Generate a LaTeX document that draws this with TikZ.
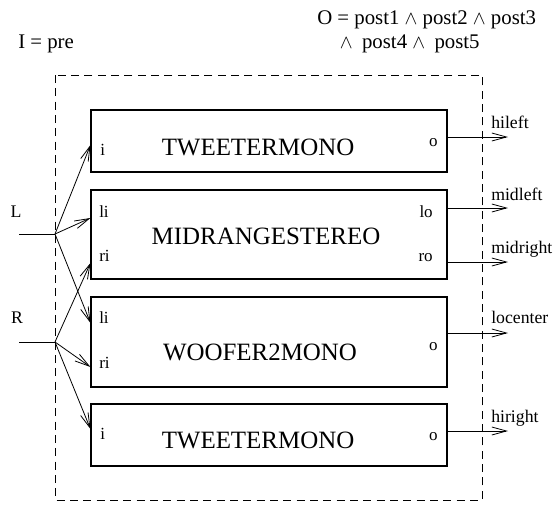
\documentclass[tikz,border=0pt]{standalone}
\usepackage{fontspec}
\setmainfont{Liberation Serif}
\usetikzlibrary{arrows.meta}
\begin{document}
\begin{tikzpicture}[x=0.75pt,y=-0.75pt,
  blk/.style={draw, line width=0.8pt, minimum width=267pt, inner sep=0pt},
  port/.style={font=\fontsize{12.75}{14}\selectfont, inner sep=0pt, anchor=base west},
  portr/.style={port, anchor=base east},
  ttl/.style={font=\fontsize{18.7}{22}\selectfont, inner sep=0pt, anchor=base},
  lbl/.style={font=\fontsize{13.3}{15}\selectfont, inner sep=0pt, anchor=base west},
  toptxt/.style={font=\fontsize{15.6}{17.6}\selectfont, inner sep=0pt, anchor=base west},
  wire/.style={line width=0.6pt},
  arr/.style={line width=0.6pt, -{Straight Barb[length=11pt,width=6pt,line width=0.6pt]}},
  frame/.style={line width=0.7pt, dash pattern=on 6pt off 4pt}]
\useasboundingbox (0,0) rectangle (553,504);

% top texts
\node[toptxt] (pre) at (18,48) {I = pre};
\node[toptxt, align=left] (post) at (317,48)
  {O = post1 $\wedge$ post2 $\wedge$ post3\\
   \hspace*{17pt}$\wedge$\hspace{0.2em} post4 $\wedge$\hspace{0.2em} post5};

% dashed enclosure
\draw[frame] (55,75) rectangle (482,500);

% blocks
\node[blk, minimum height=46.5pt] (b1) at (269,141) {};
\node[blk, minimum height=66.75pt] (b2) at (269,234.5) {};
\node[blk, minimum height=67.5pt] (b3) at (269,342) {};
\node[blk, minimum height=46.5pt] (b4) at (269,435) {};

\node[ttl] (t1) at (258,155.7) {TWEETERMONO};
\node[ttl] (t2) at (266,244) {MIDRANGESTEREO};
\node[ttl] (t3) at (260,360) {WOOFER2MONO};
\node[ttl] (t4) at (258,448) {TWEETERMONO};

% port labels
\node[port] (b1i) at (100,155) {i};
\node[portr] (b1o) at (438,146) {o};
\node[port] (b2li) at (99,217) {li};
\node[port] (b2ri) at (99,261) {ri};
\node[portr] (b2lo) at (433,217) {lo};
\node[portr] (b2ro) at (433,261) {ro};
\node[port] (b3li) at (99,323) {li};
\node[port] (b3ri) at (99,368) {ri};
\node[portr] (b3o) at (438,350) {o};
\node[port] (b4i) at (100,439) {i};
\node[portr] (b4o) at (438,440) {o};

% inputs
\node[lbl, anchor=base] (Llab) at (16,217) {L};
\node[lbl, anchor=base] (Rlab) at (17,323) {R};
\coordinate (L0) at (19,234);
\coordinate (jL) at (55,234);
\coordinate (R0) at (19,342);
\coordinate (jR) at (55,342);
\coordinate (p1) at (91,145);
\coordinate (p2l) at (91,218);
\coordinate (p2r) at (91,263);
\coordinate (p3l) at (91,323);
\coordinate (p3r) at (91,367);
\coordinate (p4) at (91,429);
\draw[wire] (L0) -- (jL);
\draw[wire] (R0) -- (jR);
\draw[arr] (jL) -- (b1.west |- p1);
\draw[arr] (jL) -- (b2.west |- p2l);
\draw[arr] (jL) -- (b3.west |- p3l);
\draw[arr] (jR) -- (b2.west |- p2r);
\draw[arr] (jR) -- (b3.west |- p3r);
\draw[arr] (jR) -- (b4.west |- p4);

% outputs
\coordinate (o1) at (508,137);
\coordinate (o2) at (508,208);
\coordinate (o3) at (508,262);
\coordinate (o4) at (508,333);
\coordinate (o5) at (508,431);
\draw[arr] (b1.east |- o1) -- (o1);
\draw[arr] (b2.east |- o2) -- (o2);
\draw[arr] (b2.east |- o3) -- (o3);
\draw[arr] (b3.east |- o4) -- (o4);
\draw[arr] (b4.east |- o5) -- (o5);
\node[lbl] (hileft) at (491,128) {hileft};
\node[lbl] (midleft) at (491,200) {midleft};
\node[lbl] (midright) at (491,253) {midright};
\node[lbl] (locenter) at (491,323) {locenter};
\node[lbl] (hiright) at (491,422) {hiright};
\end{tikzpicture}
\end{document}
